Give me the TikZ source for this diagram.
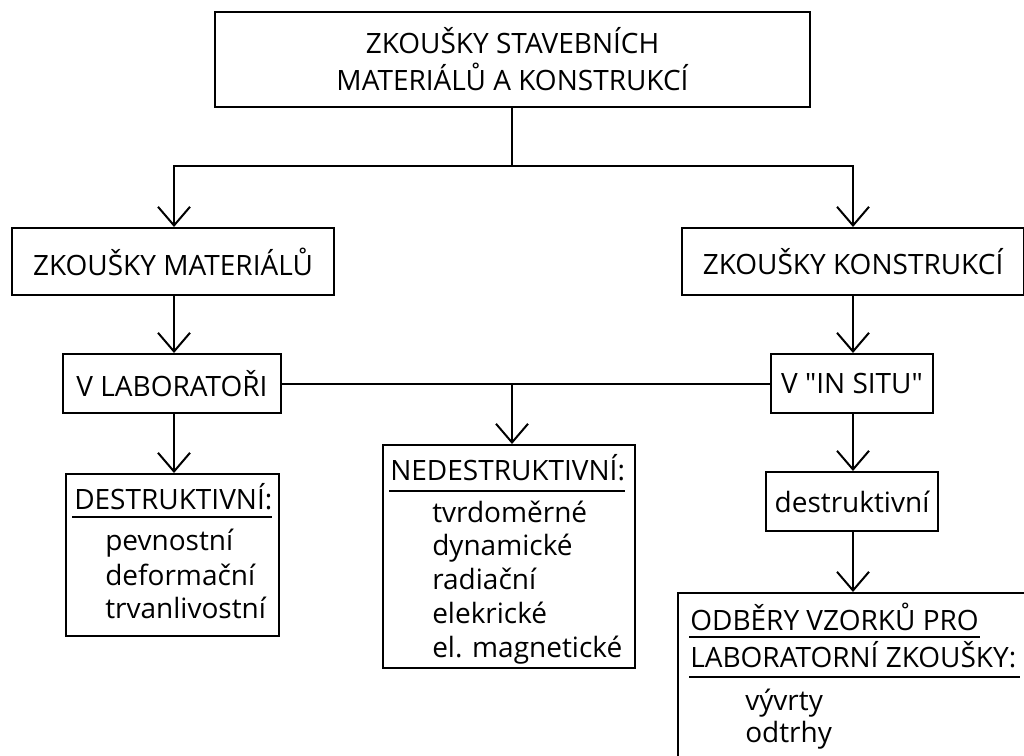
\documentclass[tikz,border=0pt]{standalone}
\usepackage{fontspec}
\newfontfamily\os{Open Sans}
\usetikzlibrary{arrows.meta}
\begin{document}
\begin{tikzpicture}[x=0.75pt,y=-0.75pt,
  box/.style={draw, line width=1.5pt, inner sep=0pt, align=center,
    font=\os\fontsize{21}{27.75}\selectfont},
  frame/.style={draw, line width=1.5pt, inner sep=0pt},
  txt/.style={inner sep=0pt, anchor=base west, font=\os\fontsize{21}{25}\selectfont},
  ln/.style={line width=1.5pt},
  arr/.style={line width=1.5pt, -{Straight Barb[length=14pt,width=24pt]}}]
\useasboundingbox (0,0) rectangle (1024,756);
\clip (0,0) rectangle (1024,756);
\fill[white] (0,0) rectangle (1024,756);
% boxes
\node[box, minimum width=595*0.75pt, minimum height=95*0.75pt] (top) at (512.5,59.5)
  {ZKOUŠKY STAVEBNÍCH\\MATERIÁLŮ A KONSTRUKCÍ};
\node[box, minimum width=322*0.75pt, minimum height=67*0.75pt] (zm) at (173,261.5) {ZKOUŠKY MATERIÁLŮ};
\node[box, minimum width=342*0.75pt, minimum height=67*0.75pt] (zk) at (853,261.5) {ZKOUŠKY KONSTRUKCÍ};
\node[box, minimum width=218*0.75pt, minimum height=59*0.75pt] (vl) at (172,383.5) {V LABORATOŘI};
\node[box, minimum width=162*0.75pt, minimum height=59*0.75pt] (vis) at (852,383.5) {V "IN SITU"};
\node[box, minimum width=172*0.75pt, minimum height=59*0.75pt] (dest) at (852,501.5) {destruktivní};
\node[frame, minimum width=213*0.75pt, minimum height=162*0.75pt] (des) at (172.5,555) {};
\node[frame, minimum width=252*0.75pt, minimum height=223*0.75pt] (ned) at (509,556.5) {};
\node[frame, minimum width=352*0.75pt, minimum height=177*0.75pt] (odb) at (854,681.5) {};
% DESTRUKTIVNI contents
\node[txt] (desh) at (74,509) {DESTRUKTIVNÍ:};
\draw[ln] (72,517) -- (272,517);
\node[txt] (d1) at (105,550) {pevnostní};
\node[txt] (d2) at (105,585) {deformační};
\node[txt] (d3) at (105,618) {trvanlivostní};
% NEDESTRUKTIVNI contents
\node[txt] (nedh) at (390,480) {NEDESTRUKTIVNÍ:};
\draw[ln] (389,491) -- (625,491);
\node[txt] (n1) at (432,522) {tvrdoměrné};
\node[txt] (n2) at (432,555) {dynamické};
\node[txt] (n3) at (432,589) {radiační};
\node[txt] (n4) at (432,623) {elekrické};
\node[txt] (n5) at (432,657) {el. magnetické};
% ODBERY contents
\node[txt] (o1) at (690,630) {ODBĚRY VZORKŮ PRO};
\draw[ln] (689,637) -- (980,637);
\node[txt] (o2) at (690,667) {LABORATORNÍ ZKOUŠKY:};
\draw[ln] (689,677) -- (1020,677);
\node[txt] (o3) at (745,710) {vývrty};
\node[txt] (o4) at (745,742) {odtrhy};
% connectors
\coordinate (j1) at (512,166);
\coordinate (j2) at (512,384);
\coordinate (la) at (174,0);
\coordinate (ra) at (853,0);
\draw[ln] (top.south -| j1) -- (j1);
\draw[arr] (j1) -| (zm.north -| la);
\draw[arr] (j1) -| (zk.north -| ra);
\draw[arr] (zm.south -| la) -- (vl.north -| la);
\draw[arr] (zk.south -| ra) -- (vis.north -| ra);
\draw[ln] (vl.east) -- (vis.west);
\draw[arr] (j2) -- (j2 |- ned.north);
\draw[arr] (vl.south -| la) -- (des.north -| la);
\draw[arr] (vis.south -| ra) -- (dest.north -| ra);
\draw[arr] (dest.south -| ra) -- (odb.north -| ra);
\end{tikzpicture}
\end{document}
